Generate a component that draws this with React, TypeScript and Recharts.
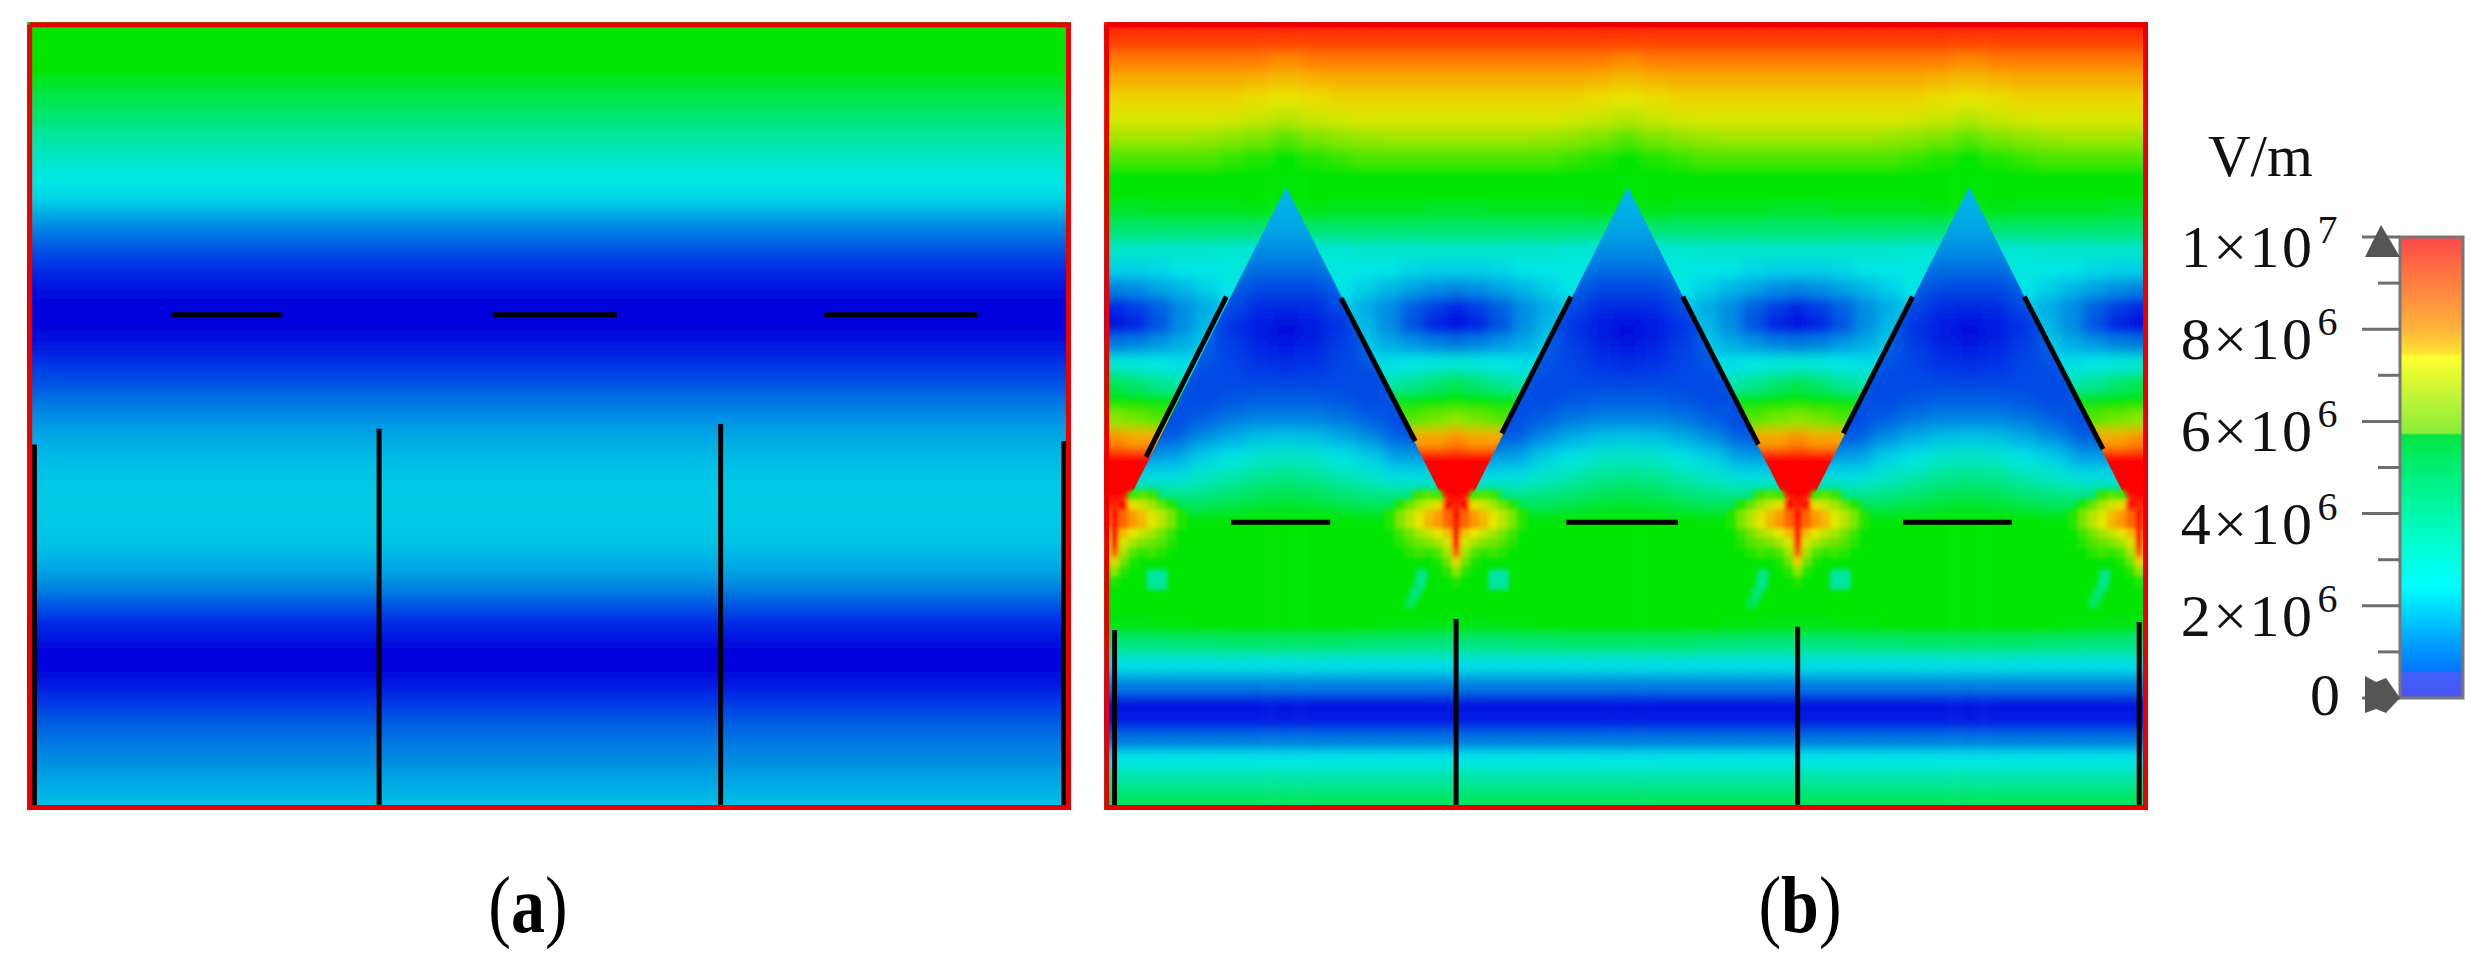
import { Bar, BarChart, Scatter, ScatterChart, XAxis, YAxis } from 'recharts';

// all field values are in 10^6 V/m, positions in units of the shrunk figure (frame = 660 x 498)
const bandStepA = 10;
const bandValuesA = [
  5.0, 5.0, 5.0, 4.7, 4.3, 4.0, 3.7, 3.3, 3.0, 2.7, 2.5, 2.3, 1.8, 1.4, 1.1, 0.8, 0.5, 0.2, 0.0, 0.0, 0.2,
  0.5, 0.8, 1.0, 1.25, 1.5, 1.7, 1.85, 1.95, 2.05, 2.1, 2.1, 2.05, 2.0, 1.85, 1.65, 1.35, 1.0, 0.6, 0.25, 0.03,
  0.05, 0.35, 0.7, 0.95, 1.15, 1.35, 1.5, 1.7, 1.85, 2.0,
];

const wedgeCenters = [5, 222, 439, 656];
const triangleApexes = [-103, 114, 331, 548, 765];

// field around the wedges, one row per 12 units, columns = distance from the wedge centre
const wedgeStep = 12;
const wedgeOffsets = [0, 15, 30, 45, 60, 75, 90, 108];
const wedgeRows = [
  [9.6, 9.6, 9.6, 9.6, 9.6, 9.6, 9.6, 9.6],
  [9.2, 9.2, 9.2, 9.2, 9.2, 9.2, 9.2, 9.2],
  [8.7, 8.7, 8.7, 8.7, 8.7, 8.7, 8.7, 8.6],
  [8.2, 8.2, 8.2, 8.2, 8.2, 8.2, 8.1, 8.0],
  [7.7, 7.7, 7.7, 7.7, 7.7, 7.7, 7.6, 7.5],
  [7.4, 7.4, 7.4, 7.4, 7.4, 7.3, 7.2, 7.0],
  [6.8, 6.8, 6.8, 6.8, 6.7, 6.6, 6.4, 6.1],
  [6.0, 6.0, 6.0, 6.0, 6.0, 5.8, 5.6, 5.2],
  [5.3, 5.3, 5.3, 5.3, 5.2, 5.1, 5.0, 5.0],
  [5.0, 5.0, 5.0, 5.0, 5.0, 5.0, 5.0, 5.0],
  [4.3, 4.3, 4.4, 4.4, 4.4, 4.4, 4.5, 4.5],
  [3.7, 3.7, 3.7, 3.7, 3.7, 3.7, 3.7, 3.7],
  [2.8, 2.8, 2.8, 2.8, 2.8, 2.7, 2.7, 2.7],
  [2.2, 2.2, 2.3, 2.5, 2.5, 2.6, 2.6, 2.6],
  [1.4, 1.5, 1.7, 1.9, 2.2, 2.5, 2.5, 2.5],
  [0.5, 0.8, 1.1, 1.5, 1.8, 2.2, 2.2, 2.2],
  [0.2, 0.5, 1.0, 1.5, 1.9, 2.2, 2.2, 2.2],
  [1.3, 1.4, 1.6, 1.8, 2.1, 2.1, 2.1, 2.1],
  [2.7, 2.6, 2.5, 2.4, 2.4, 2.4, 2.4, 2.4],
  [4.0, 3.7, 3.3, 3.0, 3.0, 3.0, 3.0, 3.0],
  [5.2, 4.9, 4.6, 4.6, 4.6, 4.6, 4.6, 4.6],
  [6.6, 6.3, 6.0, 6.0, 6.0, 6.0, 6.0, 6.0],
  [8.6, 8.3, 8.3, 8.3, 8.3, 8.3, 8.3, 8.3],
  [10, 10, 10, 10, 10, 10, 10, 10],
  [10, 10, 10, 10, 10, 10, 10, 10],
  [10, 10, 10, 10, 10, 10, 10, 10],
  [10, 8, 5.0, 5.0, 5.0, 5.0, 5.0, 5.0],
  [5.0, 5.0, 5.0, 5.0, 5.0, 5.0, 5.0, 5.0],
  [5.0, 5.0, 5.0, 5.0, 5.0, 5.0, 5.0, 5.0],
  [5.0, 5.0, 5.0, 5.0, 5.0, 5.0, 5.0, 5.0],
  [5.0, 5.0, 5.0, 5.0, 5.0, 5.0, 5.0, 5.0],
  [5.0, 5.0, 5.0, 5.0, 5.0, 5.0, 5.0, 5.0],
  [4.5, 4.5, 4.6, 4.6, 4.7, 4.7, 4.8, 4.8],
  [3.5, 3.5, 3.5, 3.6, 3.6, 3.7, 3.7, 3.7],
  [2.4, 2.4, 2.4, 2.4, 2.4, 2.4, 2.4, 2.4],
  [1.4, 1.4, 1.4, 1.4, 1.4, 1.4, 1.4, 1.4],
  [0.3, 0.3, 0.3, 0.3, 0.3, 0.3, 0.3, 0.3],
  [0.4, 0.4, 0.4, 0.4, 0.4, 0.4, 0.4, 0.4],
  [1.3, 1.3, 1.3, 1.3, 1.3, 1.3, 1.3, 1.3],
  [2.5, 2.5, 2.5, 2.5, 2.5, 2.5, 2.5, 2.5],
  [3.2, 3.2, 3.2, 3.2, 3.2, 3.2, 3.2, 3.2],
  [3.8, 3.8, 3.8, 3.8, 3.8, 3.8, 3.8, 3.8],
  [4.0, 4.0, 4.0, 4.0, 4.0, 4.0, 4.0, 4.0],
];

// field inside the triangles, rows from y = 96, columns = distance from the triangle axis
const insideStart = 96;
const insideOffsets = [0, 18, 36, 54, 72, 90, 108];
const insideRows = [
  [1.9, 1.9, 1.9, 1.9, 1.9, 1.9, 1.9],
  [1.9, 1.9, 1.9, 1.9, 1.9, 1.9, 1.9],
  [1.8, 1.8, 1.9, 1.9, 1.9, 1.9, 1.9],
  [1.7, 1.7, 1.8, 1.9, 1.9, 1.9, 1.9],
  [1.5, 1.5, 1.7, 1.8, 1.9, 1.9, 1.9],
  [1.2, 1.2, 1.4, 1.6, 1.8, 1.9, 1.9],
  [0.9, 0.9, 1.1, 1.4, 1.6, 1.8, 1.9],
  [0.55, 0.6, 0.9, 1.2, 1.5, 1.8, 1.9],
  [0.1, 0.3, 0.7, 1.1, 1.4, 1.7, 1.8],
  [0.3, 0.45, 0.8, 1.1, 1.4, 1.7, 1.8],
  [0.6, 0.7, 0.85, 1.0, 1.2, 1.5, 1.7],
  [0.85, 0.85, 0.9, 0.9, 1.0, 1.2, 1.4],
  [1.1, 1.1, 1.0, 0.9, 1.0, 1.1, 1.3],
  [1.4, 1.4, 1.3, 1.1, 0.9, 1.0, 1.2],
  [2.1, 2.0, 1.8, 1.5, 1.1, 1.0, 1.2],
  [2.9, 2.8, 2.5, 2.2, 1.7, 1.6, 1.6],
  [3.5, 3.4, 3.1, 2.8, 2.4, 2.4, 2.4],
  [4.1, 4.0, 3.8, 3.6, 3.6, 4.3, 5.0],
  [4.8, 4.8, 4.7, 4.6, 4.7, 5.0, 5.0],
  [5.0, 5.0, 5.0, 5.0, 5.0, 5.0, 5.0],
];

// hot spot under each wedge tip, rows from y = 300, -1 = nothing drawn
const spotStart = 300;
const spotOffsets = [0, 6, 12, 18, 24, 30, 36, 42];
const spotRows = [
  [-1, -1, 5.9, 6.1, 5.8, -1, -1, -1],
  [-1, 10, 7.6, 7.2, 6.8, 6.2, 5.6, -1],
  [10, 8.9, 8.4, 8.0, 7.4, 7.0, 6.4, 5.6],
  [9.5, 8.9, 8.5, 8.1, 7.5, 7.0, 6.4, 5.6],
  [10, 8.0, 7.5, 7.1, 6.8, 6.3, 5.8, -1],
  [10, 7.3, 6.8, 6.4, 6.2, 6.0, 5.6, -1],
  [9.0, 6.8, 6.0, 5.7, 5.8, 5.6, -1, -1],
  [7.8, 6.2, 5.5, -1, -1, -1, -1, -1],
  [6.6, 5.6, -1, -1, -1, -1, -1, -1],
  [5.6, -1, -1, -1, -1, -1, -1, -1],
];
const patchDx = [-22, -23, -26, -29, 24, 30, 24, 30];
const patchY = [350, 356, 362, 368, 350, 350, 356, 356];
const patchV = [3.4, 3.4, 3.6, 3.9, 3.2, 3.2, 3.2, 3.2];

const wiresA = [
  [{ x: 90, y: 184.5 }, { x: 160, y: 184.5 }],
  [{ x: 295, y: 184.5 }, { x: 373, y: 184.5 }],
  [{ x: 505, y: 184.5 }, { x: 602, y: 184.5 }],
  [{ x: 3, y: 267 }, { x: 3, y: 498 }],
  [{ x: 222, y: 257 }, { x: 222, y: 498 }],
  [{ x: 439, y: 254 }, { x: 439, y: 498 }],
  [{ x: 657, y: 265 }, { x: 657, y: 498 }],
];
const wiresB = [
  [{ x: 76, y: 173 }, { x: 25, y: 275 }],
  [{ x: 149, y: 174 }, { x: 196, y: 265 }],
  [{ x: 295, y: 173 }, { x: 251, y: 260 }],
  [{ x: 366, y: 173 }, { x: 414, y: 267 }],
  [{ x: 512, y: 173 }, { x: 468, y: 260 }],
  [{ x: 583, y: 173 }, { x: 633, y: 270 }],
  [{ x: 79, y: 316.5 }, { x: 142, y: 316.5 }],
  [{ x: 292, y: 316.5 }, { x: 363, y: 316.5 }],
  [{ x: 506, y: 316.5 }, { x: 575, y: 316.5 }],
  [{ x: 5, y: 385 }, { x: 5, y: 498 }],
  [{ x: 222, y: 378 }, { x: 222, y: 498 }],
  [{ x: 439, y: 383 }, { x: 439, y: 498 }],
  [{ x: 656, y: 380 }, { x: 656, y: 498 }],
];
const frameLine = [
  { x: 0, y: 0 }, { x: 660, y: 0 }, { x: 660, y: 498 }, { x: 0, y: 498 }, { x: 0, y: 0 },
];

// colour bar
const barData = [{ name: 'E', value: 10000000 }];
const barTicks = [0, 1e6, 2e6, 3e6, 4e6, 5e6, 6e6, 7e6, 8e6, 9e6, 1e7];
const barLabels: Record<number, [string, string]> = {
  0: ['0', ''], 2000000: ['2×10', '6'], 4000000: ['4×10', '6'], 6000000: ['6×10', '6'],
  8000000: ['8×10', '6'], 10000000: ['1×10', '7'],
};
const barStops: [number, string][] = [
  [0, '#ff4848'], [0.1, '#ff7f40'], [0.2, '#ffb43c'], [0.25, '#ffe030'], [0.26, '#ffff30'], [0.33, '#cdf535'],
  [0.425, '#8aee3a'], [0.43, '#00e640'], [0.52, '#00f080'], [0.68, '#00ffd8'], [0.76, '#00ffff'],
  [0.88, '#00a0ff'], [0.94, '#0078ff'], [0.945, '#4060f8'], [1, '#4a55f0'],
];

// colour map of the two field plots
const fieldStops: [number, number[]][] = [
  [0, [0, 0, 220]], [0.7, [0, 50, 230]], [1.25, [0, 115, 225]], [2, [0, 195, 230]], [2.5, [0, 230, 230]],
  [3.7, [0, 230, 115]], [4.7, [0, 230, 0]], [5.3, [0, 230, 0]], [6.3, [115, 230, 0]], [7.5, [230, 230, 0]],
  [8.5, [255, 150, 0]], [9.5, [255, 30, 0]], [10, [255, 0, 0]],
];

function fieldColor(v: number) {
  for (let i = 1; i < fieldStops.length; i++) {
    const [v1, c1] = fieldStops[i];
    if (v <= v1) {
      const [v0, c0] = fieldStops[i - 1];
      const t = (v - v0) / (v1 - v0);
      return `rgb(${c0.map((c, k) => Math.round(c + (c1[k] - c) * t)).join(',')})`;
    }
  }
  return '#ff0000';
}

const UNIT_X = 1.574;
const UNIT_Y = 1.572;
const PAD = 1.7;
const xDomain = [-PAD, 660 + PAD];
const yDomain = [-PAD, 498 + PAD];
const CHART_W = (660 + 2 * PAD) * UNIT_X;
const CHART_H = (498 + 2 * PAD) * UNIT_Y;

type Cell = { x: number; y: number; v: number };

const cellShape = (w: number, h: number) => (p: any) => (
  <rect
    x={p.cx - (w * UNIT_X) / 2}
    y={p.cy - (h * UNIT_Y) / 2}
    width={w * UNIT_X}
    height={h * UNIT_Y}
    fill={fieldColor(p.payload.v)}
  />
);

const cellsA: Cell[] = [];
[-20, -10].forEach(y => cellsA.push({ x: 330, y, v: bandValuesA[0] }));
bandValuesA.forEach((v, i) => cellsA.push({ x: 330, y: i * bandStepA, v }));
[510, 520].forEach(y => cellsA.push({ x: 330, y, v: bandValuesA[bandValuesA.length - 1] }));

// one field tile per wedge / triangle, mirrored around its axis
function tile(centers: number[], offsets: number[], rows: number[][], y0: number, step: number) {
  const out: Cell[] = [];
  centers.forEach(c => {
    rows.forEach((row, r) => {
      row.forEach((v, k) => {
        if (v < 0) return;
        const y = y0 + r * step;
        out.push({ x: c + offsets[k], y, v });
        if (offsets[k] !== 0) out.push({ x: c - offsets[k], y, v });
      });
    });
  });
  return out;
}

const cellsWedge = tile(wedgeCenters, wedgeOffsets, [wedgeRows[0], wedgeRows[0], ...wedgeRows, wedgeRows[wedgeRows.length - 1]], -2 * wedgeStep, wedgeStep);
const cellsInside = tile(triangleApexes, insideOffsets, insideRows, insideStart, wedgeStep);
const cellsSpot = tile(wedgeCenters, spotOffsets, spotRows, spotStart, 6);
wedgeCenters.forEach(c => patchDx.forEach((dx, i) => cellsSpot.push({ x: c + dx, y: patchY[i], v: patchV[i] })));

const px = (x: number) => (x + PAD) * UNIT_X;
const py = (y: number) => (y + PAD) * UNIT_Y;

const noMark = () => <g />;
const MARGIN = { top: 0, right: 0, bottom: 0, left: 0 };

function BarTick(p: any) {
  const v: number = p.payload.value;
  const label = barLabels[v];
  const major = v % 2000000 === 0;
  return (
    <g>
      <line x1={p.x - (major ? 38 : 22)} x2={p.x} y1={p.y} y2={p.y} stroke="#6e6e6e" strokeWidth={3} />
      {v === 10000000 && (
        <polygon points={`${p.x - 19},${p.y - 12} ${p.x - 35},${p.y + 20} ${p.x},${p.y + 20}`} fill="#555" />
      )}
      {v === 0 && (
        <polygon
          points={`${p.x - 35},${p.y - 22} ${p.x - 24},${p.y - 16} ${p.x - 14},${p.y - 20} ${p.x},${p.y} ${p.x - 14},${p.y + 15} ${p.x - 24},${p.y + 11} ${p.x - 35},${p.y + 15}`}
          fill="#555"
        />
      )}
      {label && (
        <text
          x={p.x - 60}
          y={p.y + (v === 0 ? 17 : 30)}
          textAnchor="end"
          fontFamily="Liberation Serif"
          fontSize={60}
          letterSpacing={v === 0 ? 0 : 2.5}
          fill="#111"
        >
          <tspan>{label[0]}</tspan>
          {label[1] && (
            <tspan dy={-24} dx={3} fontSize={40}>
              {label[1]}
            </tspan>
          )}
        </text>
      )}
    </g>
  );
}

const captionStyle: React.CSSProperties = {
  position: 'absolute',
  top: 867,
  fontFamily: 'Liberation Serif',
  fontSize: 68,
  lineHeight: '84px',
  color: '#000',
  whiteSpace: 'nowrap',
  transformOrigin: '50% 65px',
  transform: 'translateX(-50%) scaleY(1.19)',
};

function panelBox(left: number): React.CSSProperties {
  return { position: 'absolute', left: left - PAD * UNIT_X, top: 24.5 - PAD * UNIT_Y };
}

export default function App() {
  const wires = (list: { x: number; y: number }[][]) =>
    list.map((seg, i) => (
      <Scatter
        key={i}
        data={seg}
        fill="#000"
        line={{ stroke: '#000', strokeWidth: 5 }}
        shape={noMark}
        isAnimationActive={false}
      />
    ));
  const frame = (
    <Scatter
      data={frameLine}
      fill="#e80000"
      line={{ stroke: '#e80000', strokeWidth: 5 }}
      shape={noMark}
      isAnimationActive={false}
    />
  );
  return (
    <div style={{ position: 'relative', width: 2461, height: 952 }}>
      <style>{`
        .band-a { filter: url(#blurBand); }
        .field-wedge { filter: url(#blurWedge); }
        .field-inside { filter: url(#blurInside); clip-path: url(#triangleClip); }
        .field-spot { filter: url(#blurSpot); }
        body { margin: 0; background: #fff; }
      `}</style>

      <div style={panelBox(29.5)}>
        <ScatterChart width={CHART_W} height={CHART_H} margin={MARGIN}>
          <defs>
            <filter id="blurBand" x="-5%" y="-5%" width="110%" height="110%">
              <feGaussianBlur stdDeviation="0 6" />
            </filter>
          </defs>
          <XAxis type="number" dataKey="x" domain={xDomain} allowDataOverflow hide />
          <YAxis type="number" dataKey="y" domain={yDomain} allowDataOverflow reversed hide />
          <Scatter className="band-a" data={cellsA} shape={cellShape(700, 11)} isAnimationActive={false} />
          {wires(wiresA)}
          {frame}
        </ScatterChart>
      </div>

      <div style={panelBox(1106.5)}>
        <ScatterChart width={CHART_W} height={CHART_H} margin={MARGIN}>
          <defs>
            <filter id="blurWedge" x="-5%" y="-5%" width="110%" height="110%">
              <feGaussianBlur stdDeviation="6" />
            </filter>
            <filter id="blurInside" x="-5%" y="-5%" width="110%" height="110%">
              <feGaussianBlur stdDeviation="8" />
            </filter>
            <filter id="blurSpot" x="-5%" y="-5%" width="110%" height="110%">
              <feGaussianBlur stdDeviation="2" />
            </filter>
            <clipPath id="triangleClip">
              {triangleApexes.map(a => (
                <polygon
                  key={a}
                  points={`${px(a)},${py(103)} ${px(a + 108.5)},${py(319)} ${px(a - 108.5)},${py(319)}`}
                />
              ))}
            </clipPath>
          </defs>
          <XAxis type="number" dataKey="x" domain={xDomain} allowDataOverflow hide />
          <YAxis type="number" dataKey="y" domain={yDomain} allowDataOverflow reversed hide />
          <Scatter className="field-wedge" data={cellsWedge} shape={cellShape(18, 13)} isAnimationActive={false} />
          <Scatter className="field-inside" data={cellsInside} shape={cellShape(20, 13)} isAnimationActive={false} />
          <Scatter className="field-spot" data={cellsSpot} shape={cellShape(7, 7)} isAnimationActive={false} />
          {wires(wiresB)}
          {frame}
        </ScatterChart>
      </div>

      <div style={{ position: 'absolute', left: 2170, top: 130 }}>
        <BarChart
          width={300}
          height={640}
          data={barData}
          margin={{ top: 107, right: 7, bottom: 72, left: 0 }}
          barCategoryGap={0}
        >
          <defs>
            <linearGradient id="barFill" x1="0" y1="0" x2="0" y2="1">
              {barStops.map(([o, c]) => (
                <stop key={o} offset={o} stopColor={c} />
              ))}
            </linearGradient>
          </defs>
          <XAxis dataKey="name" hide />
          <YAxis
            width={230}
            type="number"
            domain={[0, 10000000]}
            ticks={barTicks}
            interval={0}
            axisLine={false}
            tickLine={false}
            tickSize={0}
            tickMargin={0}
            tick={BarTick}
          />
          <Bar dataKey="value" fill="url(#barFill)" stroke="#777" strokeWidth={3} isAnimationActive={false} />
        </BarChart>
      </div>

      <div
        style={{
          position: 'absolute',
          left: 2208,
          top: 123,
          fontFamily: 'Liberation Serif',
          fontSize: 59,
          lineHeight: '66px',
          color: '#111',
          whiteSpace: 'nowrap',
        }}
      >
        V/m
      </div>
      <div style={{ ...captionStyle, left: 528 }}>
        (<b>a</b>)
      </div>
      <div style={{ ...captionStyle, left: 1800 }}>
        (<b>b</b>)
      </div>
    </div>
  );
}
